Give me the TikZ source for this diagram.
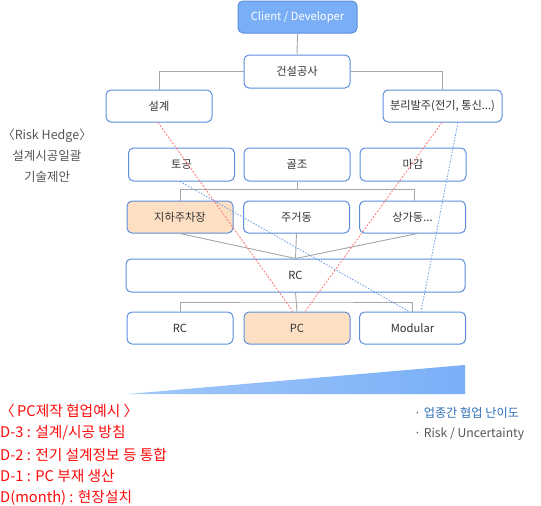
\documentclass[tikz,border=0pt]{standalone}
\usepackage{fontspec}
\setmainfont{Noto Sans CJK KR}
\usetikzlibrary{calc}
\definecolor{boxblue}{HTML}{5B8FDC}
\definecolor{clientfill}{HTML}{7AAFF7}
\definecolor{peach}{HTML}{FDDFC3}
\definecolor{linegray}{HTML}{A6A6A6}
\definecolor{txt}{HTML}{333333}
\definecolor{redd}{HTML}{FF6B6B}
\definecolor{blued}{HTML}{6A9BE6}
\definecolor{redtxt}{HTML}{FF0A0A}
\definecolor{bluetxt}{HTML}{2E6FB8}
\definecolor{graytxt}{HTML}{555555}
\tikzset{
  box/.style={draw=boxblue, line width=1pt, rounded corners=5pt, fill=white,
    minimum width=106pt, minimum height=32pt, inner sep=0pt,
    font=\fontsize{11.2}{13}\selectfont, text=txt},
  conn/.style={draw=linegray, line width=0.9pt},
  reddash/.style={draw=redd, line width=0.7pt, dash pattern=on 2pt off 1.5pt},
  bluedash/.style={draw=blued, line width=0.8pt, dash pattern=on 1.5pt off 1.5pt},
  redline/.style={font=\fontsize{14.7}{16}\selectfont, text=redtxt, anchor=west, inner sep=0pt},
  legend/.style={anchor=west, inner sep=0pt, font=\fontsize{12.2}{14}\selectfont},
}
\begin{document}
\begin{tikzpicture}[x=1pt,y=-1pt]
\useasboundingbox (0,0) rectangle (541,506);
% boxes
\node[box, fill=clientfill, draw=boxblue, text=white, minimum width=119pt] (client) at (297.5,17) {Client / Developer};
\node[box, minimum height=33pt] (gs) at (297,71.5) {건설공사};
\node[box] (sg) at (159,106) {설계};
\node[box, minimum width=119pt] (bl) at (442.5,106) {분리발주(전기, 통신...)};
\node[box, minimum height=33pt] (tg) at (181.5,164.5) {토공};
\node[box, minimum height=33pt] (gj) at (297,164.5) {골조};
\node[box, minimum height=33pt] (mg) at (413,164.5) {마감};
\node[box, fill=peach] (jh) at (180,217) {지하주차장};
\node[box] (jg) at (296.5,217) {주거동};
\node[box] (sgd) at (412.5,217) {상가동...};
\node[box, minimum width=339pt, minimum height=33pt] (rcw) at (295.5,275.5) {RC};
\node[box] (rc) at (180,328) {RC};
\node[box, fill=peach] (pc) at (297,328) {PC};
\node[box] (md) at (412.5,328) {Modular};
% connectors
\draw[conn] (client.south) -- (gs.north);
\draw[conn] (gs.west) -| (sg.north);
\draw[conn] (gs.east) -| (bl.north);
\coordinate (j1) at (297,189.5);
\draw[conn] (gj.south) -- (j1);
\draw[conn] (jh.north) |- (j1) -| ([xshift=2pt]sgd.north);
\draw[conn] (jh.south) -- (rcw.north);
\draw[conn] (jg.south) -- (rcw.north);
\draw[conn] ([xshift=5pt]sgd.south) -- (rcw.north);
\coordinate (j3) at (297,302);
\draw[conn] (rcw.south) -- (pc.north);
\draw[conn] (rc.north) |- (j3) -| (md.north);
% dashed lines
\draw[reddash] ([xshift=-1pt]sg.south) -- ([xshift=-4pt]pc.north);
\draw[reddash] ([xshift=-0.5pt]bl.south) -- ([xshift=8pt]pc.north);
\draw[bluedash] ([xshift=15.5pt]bl.south) -- ([xshift=8.5pt]md.north);
\draw[bluedash] ([xshift=-1.5pt]tg.south) -- ([xshift=-3.5pt]md.north);
% triangle
\shade[left color=clientfill!70, right color=clientfill] (128,394) -- (465,365) -- (465,394) -- cycle;
% left text
\node[font=\fontsize{12.5}{14}\selectfont, text=graytxt, align=center, inner sep=0pt] (rh) at (47,156) {〈Risk Hedge〉\\[7pt]설계시공일괄\\[7pt]기술제안};
% bottom red text
\node[redline] (r1) at (0,411) {〈\kern-1pt\ PC제작 협업예시 〉};
\node[redline] (r2) at (0,433) {D-3 : 설계/시공 방침};
\node[redline] (r3) at (0,455) {D-2 : 전기 설계정보 등 통합};
\node[redline] (r4) at (0,476) {D-1 : PC 부재 생산};
\node[redline] (r5) at (0,498) {D(month) : 현장설치};
% right legend
\node[legend, text=bluetxt] (l1) at (414,413) {\textcolor{graytxt}{·} 업종간 협업 난이도};
\node[legend, text=graytxt] (l2) at (414,434) {· Risk / Uncertainty};
\end{tikzpicture}
\end{document}
